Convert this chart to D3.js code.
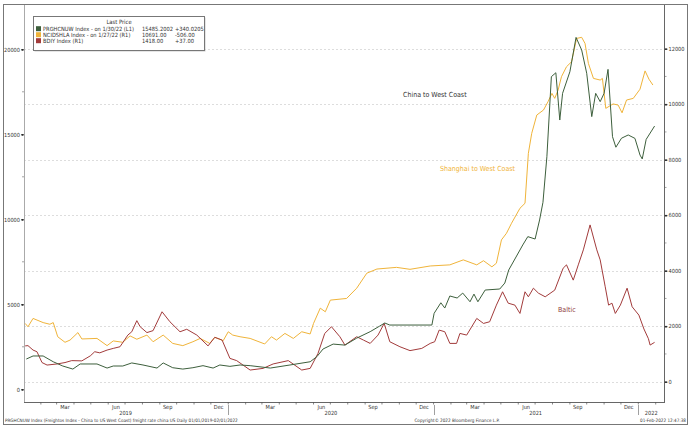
<!DOCTYPE html>
<html>
<head>
<meta charset="utf-8">
<script src="https://cdn.jsdelivr.net/npm/d3@7"></script>
<style>
  body { margin: 0; background: #fff; }
  text { font-family: "DejaVu Sans Condensed", "Liberation Sans", sans-serif; }
</style>
</head>
<body>
<script>
var width = 690;
var height = 428;

// PRGHCNUW - China to West Coast (left axis)
var chinaWest = [
  ["2019-01-06",1780],["2019-01-18",1960],["2019-02-05",1960],["2019-02-23",1620],
  ["2019-03-12",1370],["2019-03-30",1190],["2019-04-12",1490],["2019-05-12",1490],
  ["2019-05-30",1250],["2019-06-10",1370],["2019-06-27",1370],["2019-07-13",1550],
  ["2019-08-02",1430],["2019-08-27",1250],["2019-09-07",1550],["2019-09-24",1270],
  ["2019-10-12",1190],["2019-10-30",1270],["2019-11-17",1390],["2019-12-05",1250],
  ["2019-12-17",1430],["2020-01-04",1350],["2020-01-22",1430],["2020-02-09",1390],
  ["2020-03-16",1250],["2020-04-20",1430],["2020-05-26",1620],["2020-06-07",1920],
  ["2020-06-18",2370],["2020-07-06",2660],["2020-07-27",2600],["2020-08-17",3010],
  ["2020-09-10",3390],["2020-09-27",3720],["2020-10-06",3900],["2020-10-15",3780],
  ["2020-12-29",3780],["2021-01-02",4470],["2021-01-14",5090],["2021-01-21",4780],
  ["2021-01-30",5490],["2021-02-12",5370],["2021-02-22",5660],["2021-03-07",5150],
  ["2021-03-14",5600],["2021-03-21",5150],["2021-04-03",5840],["2021-04-29",5900],
  ["2021-05-08",6250],["2021-05-15",7020],["2021-05-30",7900],["2021-06-09",8490],
  ["2021-06-18",8980],["2021-07-01",8840],["2021-07-09",9960],["2021-07-15",11000],
  ["2021-07-22",13680],["2021-07-30",18390],["2021-08-07",18620],["2021-08-14",15840],
  ["2021-08-19",17410],["2021-09-01",18680],["2021-09-12",20700],["2021-09-22",19960],
  ["2021-10-01",18590],["2021-10-10",16040],["2021-10-17",17410],["2021-10-25",16920],
  ["2021-11-01",17410],["2021-11-08",18820],["2021-11-16",14860],["2021-11-22",14240],
  ["2021-12-02",14770],["2021-12-14",14960],["2021-12-26",14760],["2022-01-04",13780],
  ["2022-01-08",13550],["2022-01-15",14700],["2022-01-30",15485]
];

// NCIDSHLA - Shanghai to West Coast (right axis)
var shanghaiWest = [
  ["2019-01-04",2100],["2019-01-09",1980],["2019-01-18",2280],["2019-02-05",2130],
  ["2019-02-17",2070],["2019-02-23",2130],["2019-03-03",1620],["2019-03-16",1420],
  ["2019-03-25",1500],["2019-04-08",1770],["2019-04-15",1540],["2019-05-12",1560],
  ["2019-05-30",1300],["2019-06-10",1470],["2019-06-27",1420],["2019-07-10",1650],
  ["2019-07-22",1530],["2019-08-09",1680],["2019-08-20",1440],["2019-09-07",1680],
  ["2019-09-24",1380],["2019-10-12",1300],["2019-10-30",1440],["2019-11-12",1560],
  ["2019-11-29",1380],["2019-12-08",1600],["2019-12-23",1480],["2020-01-01",1800],
  ["2020-01-09",1680],["2020-01-22",1620],["2020-02-09",1560],["2020-03-06",1360],
  ["2020-03-18",1620],["2020-03-27",1500],["2020-04-11",1740],["2020-04-26",1560],
  ["2020-05-11",1800],["2020-05-26",1720],["2020-06-01",2100],["2020-06-13",2650],
  ["2020-06-22",2520],["2020-07-01",2940],["2020-07-30",3000],["2020-08-17",3370],
  ["2020-09-04",3910],["2020-09-22",4060],["2020-10-27",4120],["2020-11-20",4050],
  ["2020-12-26",4170],["2021-01-30",4210],["2021-02-23",4390],["2021-03-19",4210],
  ["2021-03-31",4360],["2021-04-15",4140],["2021-04-23",4270],["2021-05-02",5110],
  ["2021-05-11",5350],["2021-05-20",5710],["2021-06-04",6250],["2021-06-13",6430],
  ["2021-06-19",8230],["2021-06-25",8950],["2021-07-04",9610],["2021-07-16",9790],
  ["2021-07-24",10090],["2021-07-31",10390],["2021-08-05",10210],["2021-08-11",10510],
  ["2021-08-17",10990],["2021-08-26",11350],["2021-09-04",11530],["2021-09-13",12370],
  ["2021-09-22",12410],["2021-09-28",12190],["2021-10-04",11470],["2021-10-13",10930],
  ["2021-10-25",10870],["2021-10-29",10930],["2021-11-04",9850],["2021-11-17",10010],
  ["2021-11-26",9970],["2021-12-03",9690],["2021-12-11",10150],["2021-12-23",10210],
  ["2022-01-04",10540],["2022-01-13",11200],["2022-01-20",10900],["2022-01-27",10691]
];

// BDIY - Baltic dry index (right axis)
var baltic = [
  ["2019-01-04",1290],["2019-01-09",1300],["2019-01-18",1140],["2019-01-25",1080],
  ["2019-02-03",690],["2019-02-12",600],["2019-03-02",640],["2019-03-16",690],
  ["2019-03-28",760],["2019-04-15",750],["2019-04-30",930],["2019-05-08",1080],
  ["2019-05-17",1040],["2019-05-30",1140],["2019-06-10",1200],["2019-06-22",1260],
  ["2019-07-06",1680],["2019-07-13",1800],["2019-07-22",2200],["2019-07-28",1980],
  ["2019-08-09",1770],["2019-08-20",1840],["2019-09-05",2520],["2019-09-19",2160],
  ["2019-10-07",1800],["2019-10-19",1890],["2019-11-06",1680],["2019-11-26",1290],
  ["2019-12-08",1600],["2019-12-21",1500],["2020-01-04",840],["2020-01-16",760],
  ["2020-02-09",420],["2020-03-03",480],["2020-03-21",640],["2020-04-17",760],
  ["2020-05-11",420],["2020-05-26",480],["2020-06-09",1020],["2020-06-21",1740],
  ["2020-07-03",1980],["2020-07-18",1620],["2020-07-27",1320],["2020-08-17",1620],
  ["2020-08-29",1500],["2020-09-10",1380],["2020-09-24",1680],["2020-10-05",2100],
  ["2020-10-15",1440],["2020-11-02",1260],["2020-11-20",1120],["2020-12-11",1200],
  ["2020-12-26",1380],["2021-01-03",1440],["2021-01-11",1860],["2021-01-21",1800],
  ["2021-01-30",1380],["2021-02-11",1380],["2021-02-17",1740],["2021-03-01",1680],
  ["2021-03-19",2280],["2021-03-31",2100],["2021-04-11",2160],["2021-04-23",2760],
  ["2021-05-04",3240],["2021-05-14",2830],["2021-05-26",2760],["2021-06-04",2460],
  ["2021-06-13",3240],["2021-06-19",3060],["2021-06-28",3370],["2021-07-07",3190],
  ["2021-07-19",3060],["2021-08-05",3300],["2021-08-20",4090],["2021-08-26",4210],
  ["2021-09-07",3660],["2021-09-16",4210],["2021-09-25",4750],["2021-10-07",5650],
  ["2021-10-19",4750],["2021-10-25",4390],["2021-11-03",3420],["2021-11-09",2760],
  ["2021-11-15",2830],["2021-11-21",2460],["2021-11-30",2760],["2021-12-12",3370],
  ["2021-12-21",2700],["2022-01-02",2400],["2022-01-11",1900],["2022-01-19",1550],
  ["2022-01-22",1320],["2022-01-30",1418]
];

var leftTicks = [0, 5000, 10000, 15000, 20000];
var rightTicks = [0, 2000, 4000, 6000, 8000, 10000, 12000];
var monthLabels = ["2019-03-16","2019-06-15","2019-09-15","2019-12-15",
                   "2020-03-16","2020-06-15","2020-09-15","2020-12-15",
                   "2021-03-16","2021-06-15","2021-09-15","2021-12-15"];
var yearLabels = [["2019","2019-07-02"],["2020","2020-07-02"],["2021","2021-07-02"],["2022","2022-01-24"]];
var yearBreaks = ["2020-01-01","2021-01-01","2022-01-01"];

var legendRows = [
  {color: "#3d5f3c", name: "PRGHCNUW Index  -  on 1/30/22  (L1)", last: "15485.2002", chg: "+340.0205"},
  {color: "#f0b43a", name: "NCIDSHLA Index  -  on 1/27/22  (R1)", last: "10691.00", chg: "-506.00"},
  {color: "#a23b3b", name: "BDIY Index  (R1)", last: "1418.00", chg: "+37.00"}
];

var parse = d3.timeParse("%Y-%m-%d");
var fmtMonth = d3.timeFormat("%b");

var plot = {left: 24, right: 664, top: 5, bottom: 402};

var x = d3.scaleTime()
  .domain([parse("2019-01-01"), parse("2022-02-14")])
  .range([23.5, 663]);
var yL = d3.scaleLinear().domain([0, 20000]).range([389.3, 49.3]);
var yR = d3.scaleLinear().domain([0, 12000]).range([381.7, 48.7]);

var svg = d3.select("body").append("svg")
  .attr("width", width)
  .attr("height", height);

svg.append("rect").attr("width", width).attr("height", height).attr("fill", "#fff");

// outer frame
svg.append("rect")
  .attr("x", 3.5).attr("y", 4.5).attr("width", 684).attr("height", 420)
  .attr("fill", "none").attr("stroke", "#777").attr("stroke-width", 1);

// grid (right axis levels)
svg.append("g").selectAll("line").data(rightTicks).enter().append("line")
  .attr("x1", plot.left).attr("x2", plot.right)
  .attr("y1", function(d) { return Math.round(yR(d)) + 0.5; })
  .attr("y2", function(d) { return Math.round(yR(d)) + 0.5; })
  .attr("stroke", "#d4d4d4").attr("stroke-dasharray", "2,2").attr("stroke-width", 0.8);

// plot frame
svg.append("line").attr("x1", plot.left + 0.5).attr("x2", plot.left + 0.5)
  .attr("y1", plot.top).attr("y2", plot.bottom).attr("stroke", "#aaa");
svg.append("line").attr("x1", plot.right + 0.5).attr("x2", plot.right + 0.5)
  .attr("y1", plot.top).attr("y2", plot.bottom).attr("stroke", "#666");
svg.append("line").attr("x1", plot.left).attr("x2", plot.right + 1)
  .attr("y1", plot.bottom + 0.5).attr("y2", plot.bottom + 0.5).attr("stroke", "#666");

// left axis
var axL = d3.axisLeft(yL).tickValues(leftTicks).tickSize(3).tickPadding(1)
  .tickFormat(d3.format("d"));
var gL = svg.append("g").attr("transform", "translate(" + plot.left + ",0)").call(axL);
gL.select(".domain").remove();
gL.selectAll(".tick line").attr("stroke", "#444");
gL.selectAll(".tick").append("circle").attr("cx", -1.5).attr("r", 0.9).attr("fill", "#222");
gL.selectAll(".tick text").attr("font-size", 5.6).attr("fill", "#333");
svg.append("g").selectAll("line").data(d3.range(2500, 20000, 5000)).enter().append("line")
  .attr("x1", plot.left - 2).attr("x2", plot.left)
  .attr("y1", function(d) { return yL(d); }).attr("y2", function(d) { return yL(d); })
  .attr("stroke", "#666").attr("stroke-width", 0.6);

// right axis
var axR = d3.axisRight(yR).tickValues(rightTicks).tickSize(3).tickPadding(1)
  .tickFormat(d3.format("d"));
var gR = svg.append("g").attr("transform", "translate(" + (plot.right + 0.5) + ",0)").call(axR);
gR.select(".domain").remove();
gR.selectAll(".tick line").attr("stroke", "#444");
gR.selectAll(".tick").append("circle").attr("cx", 1.5).attr("r", 0.9).attr("fill", "#222");
gR.selectAll(".tick text").attr("font-size", 5.6).attr("fill", "#333");
svg.append("g").selectAll("line").data(d3.range(1000, 13000, 2000)).enter().append("line")
  .attr("x1", plot.right).attr("x2", plot.right + 2.5)
  .attr("y1", function(d) { return yR(d); }).attr("y2", function(d) { return yR(d); })
  .attr("stroke", "#666").attr("stroke-width", 0.6);

// bottom axis: monthly ticks, quarter labels, year labels
var months = d3.timeMonth.range(parse("2019-02-01"), parse("2022-02-14"));
svg.append("g").selectAll("line").data(months).enter().append("line")
  .attr("x1", function(d) { return x(d); }).attr("x2", function(d) { return x(d); })
  .attr("y1", plot.bottom).attr("y2", plot.bottom + 2.5)
  .attr("stroke", "#555").attr("stroke-width", 0.7);

svg.append("g").selectAll("text").data(monthLabels).enter().append("text")
  .attr("x", function(d) { return x(parse(d)); })
  .attr("y", 409)
  .attr("text-anchor", "middle").attr("font-size", 5.6).attr("fill", "#333")
  .text(function(d) { return fmtMonth(parse(d)); });

svg.append("g").selectAll("line").data(yearBreaks).enter().append("line")
  .attr("x1", function(d) { return Math.round(x(parse(d))) + 0.5; })
  .attr("x2", function(d) { return Math.round(x(parse(d))) + 0.5; })
  .attr("y1", plot.bottom + 3).attr("y2", 415)
  .attr("stroke", "#777").attr("stroke-width", 0.7);

svg.append("g").selectAll("text").data(yearLabels).enter().append("text")
  .attr("x", function(d) { return x(parse(d[1])); })
  .attr("y", 415)
  .attr("text-anchor", "middle").attr("font-size", 5.6).attr("fill", "#333")
  .text(function(d) { return d[0]; });

// series
var lineL = d3.line()
  .x(function(d) { return x(parse(d[0])); })
  .y(function(d) { return yL(d[1]); });
var lineR = d3.line()
  .x(function(d) { return x(parse(d[0])); })
  .y(function(d) { return yR(d[1]); });

svg.append("path").datum(shanghaiWest).attr("d", lineR)
  .attr("fill", "none").attr("stroke", legendRows[1].color).attr("stroke-width", 1);
svg.append("path").datum(baltic).attr("d", lineR)
  .attr("fill", "none").attr("stroke", legendRows[2].color).attr("stroke-width", 1);
svg.append("path").datum(chinaWest).attr("d", lineL)
  .attr("fill", "none").attr("stroke", legendRows[0].color).attr("stroke-width", 1);

// series annotations
svg.append("text").attr("x", 403).attr("y", 97).attr("font-size", 7).attr("fill", "#333")
  .text("China to West Coast");
svg.append("text").attr("x", 440).attr("y", 171).attr("font-size", 7).attr("fill", "#f0b43a")
  .text("Shanghai to West Coast");
svg.append("text").attr("x", 558).attr("y", 312).attr("font-size", 7).attr("fill", "#8e3a3a")
  .text("Baltic");

// legend
var lg = svg.append("g").attr("transform", "translate(33,16)");
lg.append("rect").attr("x", 1.5).attr("y", 1.5).attr("width", 171).attr("height", 34)
  .attr("fill", "#ccc");
lg.append("rect").attr("x", 0.5).attr("y", 0.5).attr("width", 171).attr("height", 34)
  .attr("fill", "#fff").attr("stroke", "#777");
lg.append("text").attr("x", 86).attr("y", 8).attr("text-anchor", "middle")
  .attr("font-size", 5.8).attr("fill", "#333").text("Last Price");
var rows = lg.selectAll("g.row").data(legendRows).enter().append("g")
  .attr("transform", function(d, i) { return "translate(0," + (14.5 + i * 6) + ")"; });
rows.append("rect").attr("x", 3).attr("y", -4.3).attr("width", 5).attr("height", 5)
  .attr("fill", function(d) { return d.color; });
rows.append("text").attr("x", 10).attr("font-size", 5.7).attr("fill", "#333")
  .text(function(d) { return d.name; });
rows.append("text").attr("x", 109).attr("font-size", 5.7).attr("fill", "#333")
  .text(function(d) { return d.last; });
rows.append("text").attr("x", 142).attr("font-size", 5.7).attr("fill", "#333")
  .text(function(d) { return d.chg; });

// footer
svg.append("text").attr("x", 5).attr("y", 422).attr("font-size", 4.6).attr("fill", "#333")
  .text("PRGHCNUW Index (Freightos Index - China to US West Coast) freight rate china US  Daily 01/01/2019-02/01/2022");
svg.append("text").attr("x", 457).attr("y", 422).attr("text-anchor", "middle")
  .attr("font-size", 4.6).attr("fill", "#333")
  .text("Copyright\u00a9 2022 Bloomberg Finance L.P.");
svg.append("text").attr("x", 686).attr("y", 422).attr("text-anchor", "end")
  .attr("font-size", 4.6).attr("fill", "#333")
  .text("01-Feb-2022 12:47:38");
</script>
</body>
</html>
